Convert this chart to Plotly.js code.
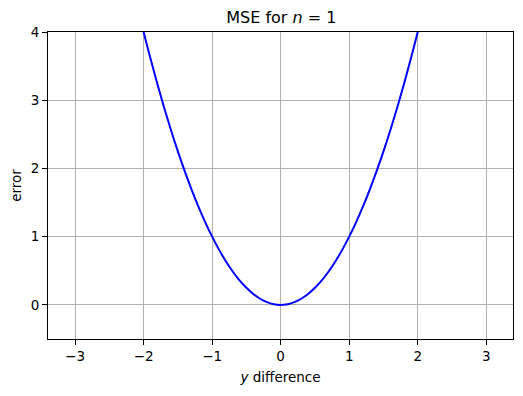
<!DOCTYPE html>
<html>
<head>
<meta charset="utf-8">
<script src="https://cdn.plot.ly/plotly-3.0.1.min.js"></script>
<style>html,body{margin:0;padding:0;background:#fff;}#chart{width:523px;height:396px;}</style>
</head>
<body>
<div id="chart"></div>
<script>
const yDifference = [-2.05, -2.0, -1.9, -1.8, -1.7, -1.6, -1.5, -1.4, -1.3, -1.2, -1.1, -1.0, -0.9, -0.8, -0.7, -0.6, -0.5, -0.4, -0.3, -0.2, -0.1, 0.0,
  0.1, 0.2, 0.3, 0.4, 0.5, 0.6, 0.7, 0.8, 0.9, 1.0, 1.1, 1.2, 1.3, 1.4, 1.5, 1.6, 1.7, 1.8, 1.9, 2.0, 2.05];
const errorValues = [4.2025, 4.0, 3.61, 3.24, 2.89, 2.56, 2.25, 1.96, 1.69, 1.44, 1.21, 1.0, 0.81, 0.64, 0.49, 0.36, 0.25, 0.16, 0.09, 0.04, 0.01, 0.0,
  0.01, 0.04, 0.09, 0.16, 0.25, 0.36, 0.49, 0.64, 0.81, 1.0, 1.21, 1.44, 1.69, 1.96, 2.25, 2.56, 2.89, 3.24, 3.61, 4.0, 4.2025];
const xTicks = [-3, -2, -1, 0, 1, 2, 3];
const yTicks = [0, 1, 2, 3, 4];

const font = {family: 'DejaVu Sans, sans-serif', color: '#000'};
const axisCommon = {
  showline: true, linecolor: '#000', linewidth: 1, mirror: true,
  ticks: 'outside', ticklen: 5, tickwidth: 1, tickcolor: '#000',
  showgrid: true, gridcolor: '#b0b0b0', gridwidth: 1,
  zeroline: false, tickfont: {family: font.family, size: 13.5, color: '#000'}
};
Plotly.newPlot('chart', [{
  x: yDifference, y: errorValues, type: 'scatter', mode: 'lines',
  line: {color: '#0000ff', width: 2, shape: 'spline'}, hoverinfo: 'none'
}], {
  width: 523, height: 396,
  margin: {l: 48, r: 10, t: 32, b: 57},
  paper_bgcolor: '#fff', plot_bgcolor: '#fff',
  font: font,
  showlegend: false,
  title: {text: 'MSE for <i>n</i> = 1', font: {family: font.family, size: 16, color: '#000'}, x: 0.538, xanchor: 'center', y: 0.955, yanchor: 'middle'},
  xaxis: Object.assign({}, axisCommon, {
    range: [-3.395, 3.39], tickvals: xTicks,
    title: {text: '<i>y</i> difference', font: {family: font.family, size: 13.5, color: '#000'}, standoff: 9}
  }),
  yaxis: Object.assign({}, axisCommon, {
    range: [-0.5, 4], tickvals: yTicks,
    title: {text: 'error', font: {family: font.family, size: 13.5, color: '#000'}, standoff: 5}
  })
}, {staticPlot: true});
</script>
</body>
</html>
